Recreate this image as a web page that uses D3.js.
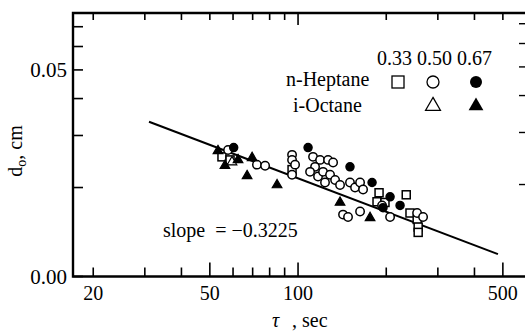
<!DOCTYPE html>
<html>
<head>
<meta charset="utf-8">
<script src="https://cdn.jsdelivr.net/npm/d3@7"></script>
<style>
  html, body { margin: 0; padding: 0; background: #fff; }
  svg { display: block; }
  text { font-family: "Liberation Serif", "Times New Roman", serif; fill: #000; }
</style>
</head>
<body>
<div id="chart"></div>
<script>
// Quench diameter d0 (cm) against residence time tau (sec), log-log.
const W = 525, H = 336;

// n-Heptane, phi = 0.33 (open squares)
const hep033Tau = [55.0, 58.6, 95.4, 186, 189, 198, 234, 241, 255, 257, 257];
const hep033D   = [0.0254, 0.0248, 0.0230, 0.0179, 0.0192, 0.0178, 0.0189, 0.0164, 0.0156, 0.0147, 0.0141];

// n-Heptane, phi = 0.50 (open circles)
const hep050Tau = [57.7, 72.4, 77.2, 95.4, 95.4, 97.7, 95.4, 112.5, 118.9, 114.3, 109.9, 117.0, 121.7,
                   126.6, 131.7, 128.6, 133.8, 139.1, 123.6, 150.4, 156.5, 162.8, 166.7, 142.4, 148.1,
                   162.8, 193.5, 206.1, 254.8, 267.1];
const hep050D   = [0.0268, 0.0239, 0.0237, 0.0258, 0.0248, 0.0239, 0.0221, 0.0254, 0.0248, 0.0235, 0.0226, 0.0218, 0.0226,
                   0.0248, 0.0243, 0.0221, 0.0212, 0.0204, 0.0208, 0.0208, 0.0200, 0.0208, 0.0197, 0.0162, 0.0159,
                   0.0166, 0.0174, 0.0159, 0.0164, 0.0159];

// n-Heptane, phi = 0.67 (filled circles)
const hep067Tau = [60.3, 108.2, 150.4, 178.9, 206.1, 195.0, 222.9];
const hep067D   = [0.0273, 0.0273, 0.0235, 0.0208, 0.0186, 0.0171, 0.0174];

// i-Octane, phi = 0.50 (open triangles)
const oct050Tau = [59.5];
const oct050D   = [0.0244];

// i-Octane, phi = 0.67 (filled triangles)
const oct067Tau = [53.3, 56.3, 62.4, 69.7, 67.0, 84.8, 139.1, 176.1];
const oct067D   = [0.0266, 0.0237, 0.0248, 0.0252, 0.0219, 0.0204, 0.0178, 0.0158];

// Least-squares line drawn through the data
const fitTau = [31, 481];
const fitD   = [0.0334, 0.0119];
const slopeLabel = "slope  = \u22120.3225";

// Axis ticks
const xMinorTicks = [20, 30, 40, 50, 60, 70, 80, 90, 100, 200, 300, 400, 500];
const xLabelTicks = [20, 50, 100, 500];
const xLongBottom = [50, 100, 500];
const xLongTop = [100];
const yTicks = [0.01, 0.02, 0.03, 0.04, 0.05, 0.06, 0.07];
const yLabels = [{ v: 0.05, t: "0.05" }, { v: 0.01, t: "0.00" }];

// Legend
const legendHeads = "0.33 0.50 0.67";
const legendFuels = ["n-Heptane", "i-Octane"];

const svg = d3.select("#chart").append("svg").attr("width", W).attr("height", H);

const x = d3.scaleLog().domain([17.06, 595]).range([73, 525]);
const y = d3.scaleLog().domain([0.01, 0.0779]).range([276.5, 13]);

const X0 = x.range()[0], X1 = x.range()[1];
const Y0 = y.range()[0], Y1 = y.range()[1];

// fit line first so open markers cover it
svg.append("path")
  .datum(fitTau.map((t, i) => [t, fitD[i]]))
  .attr("d", d3.line().x(d => x(d[0])).y(d => y(d[1])))
  .attr("fill", "none").attr("stroke", "#000").attr("stroke-width", 2);

// frame
const frame = svg.append("g").attr("stroke", "#000").attr("fill", "none");
frame.append("path")
  .attr("d", `M${X1 + 3},${Y1}H${X0}V${Y0}H${X1 + 3}`)
  .attr("stroke-width", 2.4);

// bottom ticks (inward)
frame.selectAll(".xb").data(xMinorTicks).join("line")
  .attr("x1", d => x(d)).attr("x2", d => x(d))
  .attr("y1", Y0).attr("y2", d => Y0 - (xLongBottom.includes(d) ? 14 : 9))
  .attr("stroke-width", 1.6);
// top ticks (inward)
frame.selectAll(".xt").data(xMinorTicks).join("line")
  .attr("x1", d => x(d)).attr("x2", d => x(d))
  .attr("y1", Y1).attr("y2", d => Y1 + (xLongTop.includes(d) ? 12 : 7))
  .attr("stroke-width", 1.6);
// left ticks
frame.selectAll(".yl").data(yTicks).join("line")
  .attr("x1", X0).attr("x2", X0 + 10)
  .attr("y1", d => y(d)).attr("y2", d => y(d))
  .attr("stroke-width", 1.6);
// right ticks
frame.selectAll(".yr").data(yTicks.filter(d => d > 0.01)).join("line")
  .attr("x1", X1).attr("x2", X1 - 6)
  .attr("y1", d => y(d) - 3).attr("y2", d => y(d) - 3)
  .attr("stroke-width", 1.4);

// tick labels
svg.selectAll(".xlab").data(xLabelTicks).join("text")
  .attr("x", d => x(d)).attr("y", 300)
  .attr("text-anchor", "middle").attr("font-size", 20)
  .text(d => d);
svg.selectAll(".ylab").data(yLabels).join("text")
  .attr("x", 67).attr("y", d => y(d.v) + 7)
  .attr("text-anchor", "end").attr("font-size", 21)
  .text(d => d.t);

// axis titles
const xt = svg.append("text").attr("y", 327).attr("font-size", 20);
xt.append("tspan").attr("x", 272).attr("font-style", "italic").text("\u03C4");
xt.append("tspan").attr("x", 292).text(", sec");

const yt = svg.append("text")
  .attr("transform", "translate(22,151) rotate(-90)")
  .attr("text-anchor", "middle").attr("font-size", 20);
yt.append("tspan").text("d");
yt.append("tspan").attr("font-size", 14).attr("dy", 4).text("o");
yt.append("tspan").attr("dy", -4).text(", cm");

// slope note
svg.append("text").attr("x", 163).attr("y", 237).attr("font-size", 20)
  .attr("xml:space", "preserve").style("white-space", "pre").text(slopeLabel);

// markers
const marks = svg.append("g");
function drawSeries(tau, dd, kind, filled, sz) {
  const data = tau.map((t, i) => [t, dd[i]]);
  const g = marks.append("g");
  const fill = filled ? "#000" : "#fff";
  if (kind === "circle") {
    g.selectAll("circle").data(data).join("circle")
      .attr("cx", d => x(d[0])).attr("cy", d => y(d[1])).attr("r", sz)
      .attr("fill", fill).attr("stroke", "#000").attr("stroke-width", 1.5);
  } else if (kind === "square") {
    g.selectAll("rect").data(data).join("rect")
      .attr("x", d => x(d[0]) - sz).attr("y", d => y(d[1]) - sz)
      .attr("width", 2 * sz).attr("height", 2 * sz)
      .attr("fill", fill).attr("stroke", "#000").attr("stroke-width", 1.5);
  } else {
    const sym = d3.symbol().type(d3.symbolTriangle).size(sz);
    g.selectAll("path").data(data).join("path")
      .attr("transform", d => `translate(${x(d[0])},${y(d[1])})`)
      .attr("d", sym)
      .attr("fill", fill).attr("stroke", "#000").attr("stroke-width", 1.2);
  }
}
drawSeries(hep033Tau, hep033D, "square", false, 4);
drawSeries(hep050Tau, hep050D, "circle", false, 4.2);
drawSeries(hep067Tau, hep067D, "circle", true, 4);
drawSeries(oct050Tau, oct050D, "triangle", false, 40);
drawSeries(oct067Tau, oct067D, "triangle", true, 40);

// legend
const lg = svg.append("g");
lg.append("text").attr("x", 377).attr("y", 65).attr("font-size", 20)
  .attr("xml:space", "preserve").style("white-space", "pre").text(legendHeads);
lg.append("text").attr("x", 286).attr("y", 86).attr("font-size", 20).text(legendFuels[0]);
lg.append("text").attr("x", 293).attr("y", 112).attr("font-size", 20).text(legendFuels[1]);
lg.append("rect").attr("x", 392).attr("y", 76).attr("width", 12).attr("height", 12)
  .attr("fill", "#fff").attr("stroke", "#000").attr("stroke-width", 1.3);
lg.append("circle").attr("cx", 433).attr("cy", 82).attr("r", 6)
  .attr("fill", "#fff").attr("stroke", "#000").attr("stroke-width", 1.3);
lg.append("circle").attr("cx", 476).attr("cy", 82).attr("r", 6)
  .attr("fill", "#000");
const legTri = d3.symbol().type(d3.symbolTriangle).size(95);
lg.append("path").attr("transform", "translate(433,106)").attr("d", legTri)
  .attr("fill", "#fff").attr("stroke", "#000").attr("stroke-width", 1.3);
lg.append("path").attr("transform", "translate(476,106)").attr("d", legTri)
  .attr("fill", "#000");
</script>
</body>
</html>
